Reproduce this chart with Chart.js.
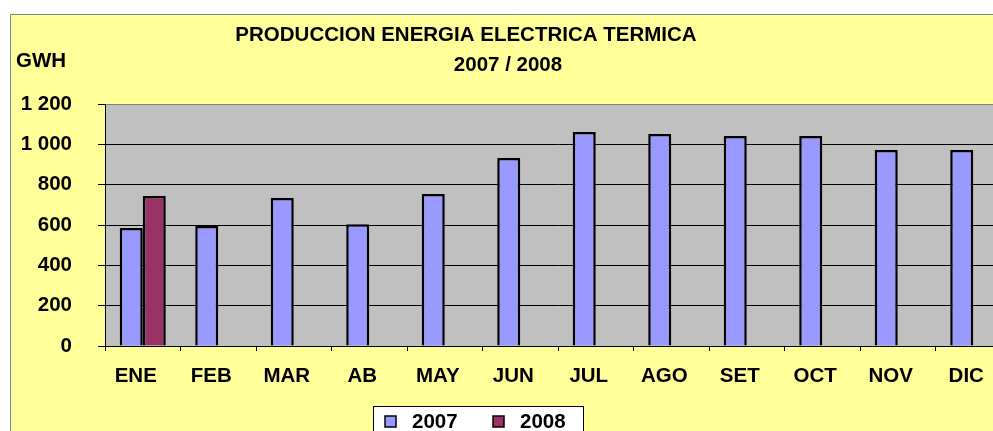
<!DOCTYPE html>
<html><head><meta charset="utf-8">
<script src="https://cdn.jsdelivr.net/npm/chart.js@4/dist/chart.umd.min.js"></script>
<style>
html,body{margin:0;padding:0;background:#fff;overflow:hidden;width:993px;height:431px;}
#wrap{position:absolute;left:0;top:0;width:1015px;height:431px;}
canvas{display:block;}
</style></head><body>
<div id="wrap"><canvas id="c" width="1015" height="431" style="width:1015px;height:431px"></canvas></div>
<script>
const categories = ['ENE','FEB','MAR','AB','MAY','JUN','JUL','AGO','SET','OCT','NOV','DIC'];
const values2007 = [585, 595, 734, 604, 754, 932, 1061, 1051, 1041, 1041, 972, 972];
const values2008 = [744, null, null, null, null, null, null, null, null, null, null, null];
const seriesNames = ['2007', '2008'];
const yTickLabels = ['0', '200', '400', '600', '800', '1 000', '1 200'];
const titleLines = ['PRODUCCION ENERGIA ELECTRICA TERMICA', '2007 / 2008'];
const unitLabel = 'GWH';

const FONT = "'Liberation Sans', Arial, sans-serif";
const BOLD = 'bold 20.5px ' + FONT;

const bgPlugin = {
  id: 'bg',
  beforeDraw(chart) {
    const ctx = chart.ctx, a = chart.chartArea;
    ctx.save();
    ctx.fillStyle = '#ffffff';
    ctx.fillRect(0, 0, chart.width, chart.height);
    ctx.fillStyle = '#FFFF99';
    ctx.fillRect(10, 14, chart.width - 10, chart.height - 14);
    ctx.strokeStyle = '#808080';
    ctx.lineWidth = 1;
    ctx.beginPath();
    ctx.moveTo(10.5, chart.height); ctx.lineTo(10.5, 14.5); ctx.lineTo(chart.width, 14.5);
    ctx.stroke();
    ctx.fillStyle = '#C0C0C0';
    ctx.fillRect(a.left, a.top, a.right - a.left, a.bottom - a.top);
    ctx.restore();
  }
};

const textPlugin = {
  id: 'texts',
  afterDraw(chart) {
    const ctx = chart.ctx;
    ctx.save();
    ctx.font = BOLD;
    ctx.fillStyle = '#000';
    ctx.textBaseline = 'alphabetic';
    ctx.textAlign = 'center';
    ctx.fillText(titleLines[0], 466, 41);
    ctx.fillText(titleLines[1], 508, 71);
    ctx.textAlign = 'left';
    ctx.fillText(unitLabel, 16, 67);
    // legend
    const lx = 373, ly = 406;
    ctx.fillStyle = '#ffffff';
    ctx.fillRect(lx, ly, 210, 40);
    ctx.strokeStyle = '#000';
    ctx.lineWidth = 1;
    ctx.strokeRect(lx + 0.5, ly + 0.5, 210, 40);
    const itemX = [385, 493];
    chart.data.datasets.forEach((ds, i) => {
      const x = itemX[i];
      ctx.fillStyle = ds.backgroundColor;
      ctx.fillRect(x, 416, 11, 11);
      ctx.strokeStyle = '#000';
      ctx.lineWidth = 1.5;
      ctx.strokeRect(x, 416, 11, 11);
      ctx.fillStyle = '#000';
      ctx.textAlign = 'left';
      ctx.fillText(ds.label, x + 27, 428);
    });
    ctx.restore();
  }
};

new Chart(document.getElementById('c'), {
  type: 'bar',
  data: {
    labels: categories,
    datasets: [
      { label: seriesNames[0], data: values2007, backgroundColor: '#9999FF', borderColor: '#000', borderWidth: 2.5,
        categoryPercentage: 0.61, barPercentage: 1.0 },
      { label: seriesNames[1], data: values2008, backgroundColor: '#993366', borderColor: '#000', borderWidth: 2.5,
        categoryPercentage: 0.61, barPercentage: 1.0 }
    ]
  },
  options: {
    responsive: false,
    animation: false,
    devicePixelRatio: 1,
    layout: { padding: { left: 10, top: 104, right: 4, bottom: 0 } },
    plugins: {
      legend: { display: false },
      title: { display: false },
      tooltip: { enabled: false }
    },
    scales: {
      x: {
        offset: true,
        grid: { display: true, drawOnChartArea: false, drawTicks: true, tickLength: 5, tickColor: '#000', offset: true },
        border: { display: true, color: '#000', width: 1 },
        ticks: { color: '#000', font: { family: FONT, size: 20.5, weight: 'bold' }, padding: 13, labelOffset: -7, maxRotation: 0, autoSkip: false },
        afterFit(scale) { scale.height = 85; }
      },
      y: {
        min: 0, max: 1200,
        grid: {
          color: (c) => (c.tick && c.tick.value === 1200) ? '#808080' : '#000',
          tickColor: '#000', tickLength: 7, lineWidth: 1
        },
        border: { display: true, color: '#000', width: 1 },
        ticks: {
          stepSize: 200, color: '#000', padding: 26,
          font: { family: FONT, size: 20.5, weight: 'bold' },
          callback: (v, i) => yTickLabels[i]
        },
        afterFit(scale) { scale.width = 95; }
      }
    }
  },
  plugins: [bgPlugin, textPlugin]
});
</script>
</body></html>
